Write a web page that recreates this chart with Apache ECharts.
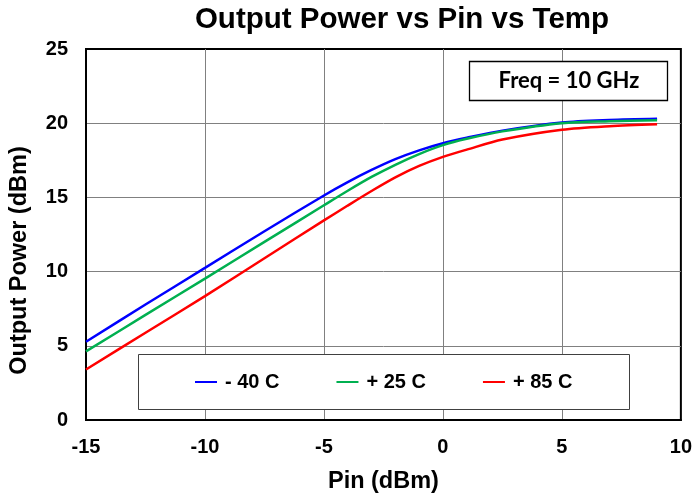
<!DOCTYPE html>
<html>
<head>
<meta charset="utf-8">
<script src="https://cdn.jsdelivr.net/npm/echarts@6/dist/echarts.min.js"></script>
<style>html,body{margin:0;padding:0;background:#fff}#c{width:695px;height:499px}</style>
</head>
<body>
<div id="c"></div>
<script>
const pin = [-15, -12.5, -10, -7.5, -5, -4, -3, -2, -1, 0, 1, 2.5, 5, 7, 9];
const pMinus40 = [5.27, 7.78, 10.25, 12.72, 15.13, 16.03, 16.85, 17.58, 18.17, 18.65, 19.02, 19.5, 20.05, 20.22, 20.3];
const pPlus25 = [4.62, 7.08, 9.53, 12.0, 14.47, 15.45, 16.38, 17.2, 17.92, 18.52, 18.95, 19.45, 20.0, 20.13, 20.2];
const pPlus85 = [3.4, 5.88, 8.35, 10.9, 13.45, 14.45, 15.43, 16.35, 17.12, 17.73, 18.22, 18.9, 19.56, 19.8, 19.93];
const seriesNames = ['- 40 C', '+ 25 C', '+ 85 C'];
const seriesColors = ['#0000FF', '#00B050', '#FF0000'];
const xTicks = [-15, 10, 5];
const yTicks = [0, 25, 5];
const titleText = 'Output Power vs Pin vs Temp';
const freqText = 'Freq = 10 GHz';

const FONT = '"Liberation Sans", Arial, sans-serif';
const chart = echarts.init(document.getElementById('c'), null, {renderer: 'canvas'});
const all = [pMinus40, pPlus25, pPlus85];
chart.setOption({
  animation: false,
  backgroundColor: '#fff',
  title: {
    text: titleText, left: 402, top: 5, padding: 0, textAlign: 'center',
    textStyle: {fontFamily: FONT, fontWeight: 'bold', fontSize: 29.5, color: '#000'}
  },
  grid: {left: 86, right: 12, top: 49, bottom: 75, show: true, borderColor: '#000', borderWidth: 2, backgroundColor: 'transparent'},
  xAxis: {
    type: 'value', min: xTicks[0], max: xTicks[1], interval: xTicks[2],
    name: 'Pin (dBm)', nameLocation: 'middle', nameGap: 50,
    nameTextStyle: {fontFamily: FONT, fontWeight: 'bold', fontSize: 23.5, color: '#000'},
    axisLine: {show: true, onZero: false, lineStyle: {color: '#000', width: 2}},
    axisTick: {show: false},
    axisLabel: {margin: 17, fontFamily: FONT, fontWeight: 'bold', fontSize: 20, color: '#000'},
    splitLine: {show: true, showMinLine: false, showMaxLine: false, lineStyle: {color: '#808080', width: 1}}
  },
  yAxis: {
    type: 'value', min: yTicks[0], max: yTicks[1], interval: yTicks[2],
    name: 'Output Power (dBm)', nameLocation: 'middle', nameGap: 54,
    nameTextStyle: {fontFamily: FONT, fontWeight: 'bold', fontSize: 23.5, color: '#000', padding: [0, 52, 0, 0]},
    axisLine: {show: true, onZero: false, lineStyle: {color: '#000', width: 2}},
    axisTick: {show: false},
    axisLabel: {margin: 18, fontFamily: FONT, fontWeight: 'bold', fontSize: 20, color: '#000'},
    splitLine: {show: true, showMinLine: false, showMaxLine: false, lineStyle: {color: '#808080', width: 1}}
  },
  legend: {
    data: seriesNames, left: 195, top: 372, padding: 0, orient: 'horizontal', z: 10,
    icon: 'rect', itemWidth: 22, itemHeight: 2, itemGap: 57,
    textStyle: {fontFamily: FONT, fontWeight: 'bold', fontSize: 20, color: '#000', padding: [0, 0, 0, 3]}
  },
  graphic: [
    {type: 'rect', z: 5, shape: {x: 138.5, y: 354.5, width: 491, height: 55}, style: {fill: '#fff', stroke: '#404040', lineWidth: 1}},
    {type: 'rect', z: 5, shape: {x: 469.5, y: 61.5, width: 198, height: 39}, style: {fill: '#fff', stroke: '#000', lineWidth: 1.3}},
    {type: 'text', z: 6, x: 569, y: 81, style: {text: freqText, fill: '#000', font: 'bold 22px Lato, "Open Sans", sans-serif', textAlign: 'center', textVerticalAlign: 'middle'}}
  ],
  series: all.map((vals, i) => ({
    name: seriesNames[i], type: 'line', smooth: 0.3, showSymbol: false, symbol: 'none',
    data: pin.map((x, j) => [x, vals[j]]),
    lineStyle: {color: seriesColors[i], width: 2.5},
    itemStyle: {color: seriesColors[i]},
    z: 3
  }))
});
</script>
</body>
</html>
